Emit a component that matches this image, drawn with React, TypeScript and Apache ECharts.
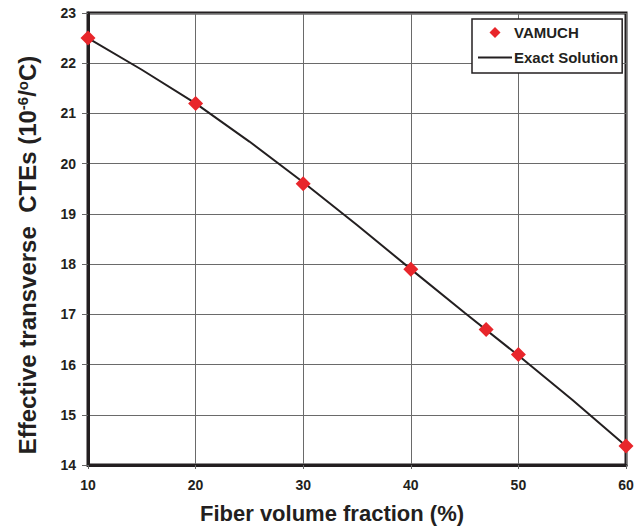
import React, { useEffect, useRef } from "react";
import * as echarts from "echarts";

const vamuchX = [10, 20, 30, 40, 47, 50, 60];
const vamuchY = [22.5, 21.2, 19.6, 17.9, 16.7, 16.2, 14.38];
const exactX = [10, 15, 20, 25, 30, 35, 40, 45, 50, 55, 60];
const exactY = [22.5, 21.87, 21.2, 20.44, 19.63, 18.78, 17.9, 17.03, 16.18, 15.3, 14.38];
const xTicks = [10, 20, 30, 40, 50, 60];
const yTicks = [14, 15, 16, 17, 18, 19, 20, 21, 22, 23];

const FONT = "'Liberation Sans', Arial, sans-serif";
const INK = "#231f20";
const RED = "#e8262b";

const DIAMOND_ICON = "path://M0,0 M34,12 M17,0.5 L22.5,6 L17,11.5 L11.5,6 Z";
const LINE_ICON = "path://M0,0 M34,12 M0,5 L34,5 L34,7 L0,7 Z";

export default function App() {
  const ref = useRef<HTMLDivElement>(null);
  useEffect(() => {
    if (!ref.current) return;
    const chart = echarts.init(ref.current, null, { renderer: "svg" });
    chart.setOption({
      animation: false,
      backgroundColor: "#fff",
      textStyle: { fontFamily: FONT },
      grid: {
        left: 88,
        right: 13,
        top: 13,
        bottom: 66,
        show: true,
        borderColor: INK,
        borderWidth: 3,
        backgroundColor: "transparent",
      },
      legend: {
        orient: "vertical",
        left: 472,
        top: 19,
        padding: [6, 4, 8, 6],
        itemGap: 10,
        itemWidth: 34,
        itemHeight: 12,
        borderColor: INK,
        borderWidth: 1.5,
        backgroundColor: "#fff",
        textStyle: { fontFamily: FONT, fontWeight: "bold", fontSize: 15, color: INK, padding: [0, 0, 0, -3] },
        data: [
          { name: "VAMUCH", icon: DIAMOND_ICON, itemStyle: { color: RED } },
          { name: "Exact Solution", icon: LINE_ICON, itemStyle: { color: INK } },
        ],
      },
      xAxis: {
        type: "value",
        min: xTicks[0],
        max: xTicks[xTicks.length - 1],
        interval: 10,
        name: "Fiber volume fraction (%)",
        nameLocation: "middle",
        nameGap: 37,
        nameTextStyle: { fontFamily: FONT, fontWeight: "bold", fontSize: 22, color: INK, padding: [0, 50, 0, 0] },
        axisLine: { show: true, lineStyle: { color: INK, width: 3 } },
        axisTick: { show: true, length: 4, lineStyle: { color: "#666", width: 1 } },
        axisLabel: { margin: 13, fontFamily: FONT, fontWeight: "bold", fontSize: 14, color: INK },
        splitLine: { show: true, lineStyle: { color: "#6a6a6a", width: 1 } },
      },
      yAxis: {
        type: "value",
        min: yTicks[0],
        max: yTicks[yTicks.length - 1],
        interval: 1,
        name: "Effective transverse  CTEs (10{sup|-6}/{sup|o}C)",
        nameLocation: "middle",
        nameGap: 49,
        nameTextStyle: {
          fontFamily: FONT,
          fontWeight: "bold",
          fontSize: 24,
          color: INK,
          padding: [0, 32, 0, 0],
          rich: {
            sup: { fontFamily: FONT, fontWeight: "bold", fontSize: 15, color: INK, verticalAlign: "top", padding: [0, 0, 9, 0] },
          },
        },
        axisLine: { show: true, lineStyle: { color: INK, width: 3 } },
        axisTick: { show: true, length: 6, lineStyle: { color: "#666", width: 1 } },
        axisLabel: { margin: 12, fontFamily: FONT, fontWeight: "bold", fontSize: 14, color: INK },
        splitLine: { show: true, lineStyle: { color: "#6a6a6a", width: 1 } },
      },
      series: [
        {
          name: "Exact Solution",
          type: "line",
          data: exactX.map((x, i) => [x, exactY[i]]),
          smooth: false,
          symbol: "none",
          lineStyle: { color: INK, width: 2 },
          itemStyle: { color: INK },
          z: 2,
        },
        {
          name: "VAMUCH",
          type: "scatter",
          data: vamuchX.map((x, i) => [x, vamuchY[i]]),
          symbol: "diamond",
          symbolSize: 15,
          itemStyle: { color: RED, opacity: 1 },
          z: 3,
        },
      ],
    });
    return () => chart.dispose();
  }, []);
  return <div ref={ref} style={{ width: 639, height: 531, position: "absolute", left: 0, top: 0 }} />;
}
